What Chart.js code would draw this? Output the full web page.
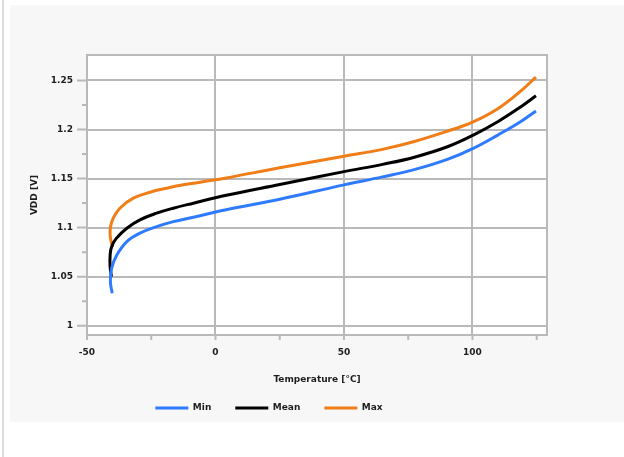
<!DOCTYPE html>
<html>
<head>
<meta charset="utf-8">
<script src="https://cdn.jsdelivr.net/npm/chart.js@4.4.1/dist/chart.umd.min.js"></script>
<style>
  html, body { margin: 0; padding: 0; background: #fff; }
  #wrap { position: relative; width: 624px; height: 457px; overflow: hidden; }
  #edge { position: absolute; left: 2px; top: 0; width: 2px; height: 457px; background: #dcdcdc; }
  #panel { position: absolute; left: 10px; top: 5px; width: 614px; height: 417px; background: #f7f7f7; }
  #chart { position: absolute; left: 0; top: 0; }
</style>
</head>
<body>
<div id="wrap">
  <div id="edge"></div>
  <div id="panel"></div>
  <canvas id="chart" width="624" height="457"></canvas>
</div>
<script>
// values
const minTemp = [-40.2, -40.9, -40.4, -38.4, -34.5, -29.4, -22.9, -16.4, -8.6, 3.7, 25, 50, 65, 78, 90.5, 100.5, 110, 119, 124.7];
const minVdd  = [1.033, 1.045, 1.0586, 1.072, 1.0857, 1.0943, 1.101, 1.1061, 1.1106, 1.118, 1.129, 1.1436, 1.1517, 1.1596, 1.1698, 1.181, 1.1946, 1.2085, 1.219];

const meanTemp = [-40.5, -41.0, -41.0, -40.4, -38.6, -34.5, -29.4, -22.9, -16.4, -8.6, 3.7, 25, 50, 65, 77.4, 90.5, 100.5, 110, 119, 124.7];
const meanVdd  = [1.050, 1.060, 1.072, 1.0806, 1.089, 1.0994, 1.1079, 1.1147, 1.1198, 1.1249, 1.1327, 1.144, 1.1571, 1.1645, 1.1718, 1.1827, 1.1946, 1.2082, 1.2235, 1.2344];

const maxTemp = [-40.0, -40.6, -41.0, -40.9, -39.8, -37.2, -32, -25.5, -19, -12.5, -6, 3.7, 25, 50, 64.5, 77.4, 90.5, 100, 110, 119.1, 124.7];
const maxVdd  = [1.080, 1.086, 1.0925, 1.10, 1.1096, 1.1198, 1.130, 1.1361, 1.1402, 1.1436, 1.1463, 1.1504, 1.161, 1.1728, 1.1795, 1.1878, 1.1985, 1.2075, 1.2215, 1.2400, 1.2535];

const xTicks = [-50, -25, 0, 25, 50, 75, 100, 125];
const yTicks = [1, 1.025, 1.05, 1.075, 1.1, 1.125, 1.15, 1.175, 1.2, 1.225, 1.25];

const GRID = '#b9b9b9';
const TEXT = '#1e1e1e';
const FONT = { family: 'DejaVu Sans', size: 9, weight: 'bold' };
const LEGEND_SHIFT = -4.5;

function toPoints(xs, ys) {
    return xs.map((x, i) => ({ x: x, y: ys[i] }));
}

function isMajor(v, step) {
    const r = v / step;
    return Math.abs(r - Math.round(r)) < 1e-6;
}

// white plot area, frame and the little tick marks outside it
const frame = {
    id: 'frame',
    afterLayout(chart) {
        chart.legend.left += LEGEND_SHIFT;
        chart.legend.right += LEGEND_SHIFT;
    },
    beforeDraw(chart) {
        const { ctx, chartArea: a } = chart;
        ctx.save();
        ctx.fillStyle = '#fff';
        ctx.fillRect(a.left, a.top, a.width, a.height);
        ctx.restore();
    },
    beforeDatasetsDraw(chart) {
        const { ctx, chartArea: a } = chart;
        const xs = chart.scales.x, ys = chart.scales.y;
        ctx.save();
        ctx.strokeStyle = GRID;
        ctx.lineWidth = 2;
        ctx.strokeRect(a.left, a.top, a.width, a.height);
        ctx.beginPath();
        xs.ticks.forEach(t => {
            const px = xs.getPixelForValue(t.value);
            ctx.moveTo(px, a.bottom);
            ctx.lineTo(px, a.bottom + 5);
        });
        ys.ticks.forEach(t => {
            const py = ys.getPixelForValue(t.value);
            const len = isMajor(t.value, 0.05) ? 10 : 5;
            ctx.moveTo(a.left - len, py);
            ctx.lineTo(a.left, py);
        });
        ctx.stroke();
        ctx.restore();
    }
};

new Chart(document.getElementById('chart').getContext('2d'), {
    type: 'line',
    data: {
        datasets: [
            { label: 'Min', data: toPoints(minTemp, minVdd), borderColor: '#2f7bff', backgroundColor: '#2f7bff' },
            { label: 'Mean', data: toPoints(meanTemp, meanVdd), borderColor: '#000000', backgroundColor: '#000000' },
            { label: 'Max', data: toPoints(maxTemp, maxVdd), borderColor: '#f07d16', backgroundColor: '#f07d16' }
        ]
    },
    options: {
        responsive: false,
        animation: false,
        devicePixelRatio: 1,
        elements: {
            line: { borderWidth: 3, tension: 0.4, fill: false },
            point: { radius: 0, hoverRadius: 0 }
        },
        layout: { padding: { top: 55, right: 77, bottom: 34.5, left: 0 } },
        scales: {
            x: {
                type: 'linear',
                min: -50,
                max: 129,
                afterBuildTicks: s => { s.ticks = xTicks.map(v => ({ value: v })); },
                afterFit: s => { s.height = 44.5; },
                grid: { color: c => isMajor(c.tick.value, 50) ? GRID : 'rgba(0,0,0,0)', lineWidth: 2, drawTicks: false },
                border: { display: false },
                ticks: {
                    padding: 12.5, color: TEXT, font: FONT, maxRotation: 0, autoSkip: false,
                    callback: v => isMajor(v, 50) ? String(v) : ''
                },
                title: { display: true, text: 'Temperature [°C]', color: TEXT, font: FONT, padding: { top: 0, bottom: -6 } }
            },
            y: {
                type: 'linear',
                min: 0.9905,
                max: 1.276,
                afterBuildTicks: s => { s.ticks = yTicks.map(v => ({ value: v })); },
                afterFit: s => { s.width = 87; },
                grid: { color: c => isMajor(c.tick.value, 0.05) ? GRID : 'rgba(0,0,0,0)', lineWidth: 2, drawTicks: false },
                border: { display: false },
                ticks: {
                    padding: 14, color: TEXT, font: FONT, autoSkip: false,
                    callback: v => isMajor(v, 0.05) ? String(Math.round(v * 100) / 100) : ''
                },
                title: { display: true, text: 'VDD [V]', color: TEXT, font: FONT, padding: { top: 29.6, bottom: 0 } }
            }
        },
        plugins: {
            legend: {
                position: 'bottom',
                labels: {
                    boxWidth: 33,
                    boxHeight: 3,
                    padding: 24,
                    color: TEXT,
                    font: FONT,
                    generateLabels: chart => Chart.defaults.plugins.legend.labels.generateLabels(chart)
                        .map(l => Object.assign(l, { lineWidth: 0, fillStyle: l.strokeStyle }))
                }
            },
            tooltip: { enabled: false }
        }
    },
    plugins: [frame]
});
</script>
</body>
</html>
